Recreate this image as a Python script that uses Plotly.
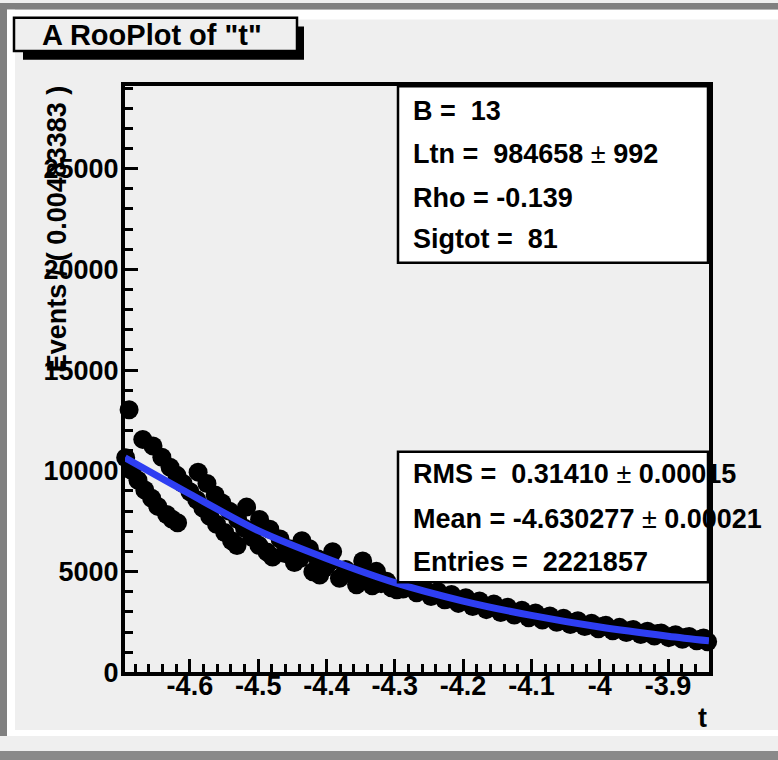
import plotly.graph_objects as go

# ---------------- data ----------------
t_data = [
    -4.689,
    -4.694, -4.685, -4.676, -4.666, -4.656, -4.647, -4.634, -4.626, -4.618,
    -4.669, -4.654, -4.641, -4.629, -4.619, -4.610, -4.600, -4.590, -4.581,
    -4.571, -4.561, -4.549, -4.539, -4.531,
    -4.588, -4.575, -4.563, -4.553, -4.542, -4.530, -4.520, -4.509, -4.499,
    -4.487, -4.479,
    -4.517, -4.498, -4.483, -4.468, -4.454, -4.439, -4.420, -4.410,
    -4.436, -4.425, -4.413, -4.400, -4.381, -4.356, -4.391,
    -4.347, -4.327, -4.312, -4.297,
    -4.461, -4.447, -4.404, -4.395, -4.372, -4.364, -4.338, -4.333, -4.320, -4.305,
    -4.288, -4.278, -4.268, -4.258, -4.247, -4.237, -4.227, -4.217, -4.207,
    -4.196, -4.186, -4.176, -4.166, -4.155, -4.145, -4.135, -4.125, -4.114,
    -4.104, -4.094, -4.084, -4.073, -4.063, -4.053, -4.043, -4.032, -4.022,
    -4.012, -4.002, -3.991, -3.981, -3.971, -3.961, -3.951, -3.940, -3.930,
    -3.920, -3.910, -3.899, -3.889, -3.879, -3.869, -3.858, -3.848, -3.842,
    -4.283, -4.263, -4.242, -4.222, -4.201, -4.181, -4.160, -4.140, -4.119,
    -4.099, -4.078, -4.058, -4.037, -4.017, -3.996, -3.976, -3.956, -3.935,
    -3.915, -3.894, -3.874, -3.853,
]
n_data = [
    13030,
    10650, 10020, 9535, 9045, 8640, 8235, 7830, 7600, 7425,
    11560, 11235, 10670, 10180, 9775, 9370, 8965, 8560, 8155,
    7750, 7345, 6940, 6530, 6290,
    9935, 9370, 8805, 8400, 7990, 7590, 7150, 6700, 6300,
    5965, 5720,
    8200, 7590, 7100, 6615, 6130, 5650, 4995, 4830,
    6530, 6130, 5640, 5300, 4670, 4345, 5985,
    5520, 5010, 4520, 4100,
    5900, 5450, 5150, 5500, 5100, 4900, 4700, 4300, 4400, 4200,
    4130, 4400, 3950, 4200, 3760, 4010, 3600, 3860, 3420,
    3700, 3260, 3540, 3110, 3390, 2970, 3230, 2840, 3080,
    2710, 2940, 2590, 2800, 2480, 2680, 2370, 2560, 2270,
    2440, 2160, 2330, 2060, 2230, 1970, 2130, 1880, 2040,
    1800, 1950, 1720, 1860, 1640, 1780, 1570, 1700, 1520,
    4300, 4060, 3880, 3640, 3560, 3380, 3250, 3050, 2980,
    2790, 2720, 2560, 2490, 2330, 2290, 2130, 2080, 1960,
    1920, 1790, 1740, 1640,
]

t_curve = [-4.695, -4.6, -4.5, -4.4, -4.3, -4.2, -4.1, -4.0, -3.9, -3.84]
n_curve = [10650, 8850, 7030, 5650, 4450, 3537, 2823, 2245, 1791, 1560]

x_tick_vals = [-4.6, -4.5, -4.4, -4.3, -4.2, -4.1, -4.0, -3.9]
x_tick_text = ["-4.6", "-4.5", "-4.4", "-4.3", "-4.2", "-4.1", "-4", "-3.9"]
y_tick_vals = [0, 5000, 10000, 15000, 20000, 25000]
y_tick_text = ["0", "5000", "10000", "15000", "20000", "25000"]

title_text = 'A RooPlot of "t"'
y_title = "Events / ( 0.00483383 )"
x_title = "t"
PM = "</b>\u00b1<b>"
stats_top = ["B =\u00a0 13", "Ltn =\u00a0 984658 " + PM + " 992", "Rho = -0.139", "Sigtot =\u00a0 81"]
stats_bot = ["RMS =\u00a0 0.31410 " + PM + " 0.00015", "Mean = -4.630277 " + PM + " 0.00021", "Entries =\u00a0 2221857"]

# ---------------- layout helpers ----------------
W, H = 778, 751
BG = "#efefef"
FONT = "Liberation Sans, Arial, Helvetica, sans-serif"


def px(x):
    return x / W


def py(y):
    return 1 - y / H


fig = go.Figure()
fig.add_trace(go.Scatter(
    x=t_data, y=n_data, mode="markers",
    marker=dict(color="black", size=19, line=dict(width=0)),
    cliponaxis=False, hoverinfo="skip", showlegend=False,
))
fig.add_trace(go.Scatter(
    x=t_curve, y=n_curve, mode="lines",
    line=dict(color="#2e3ef2", width=7, shape="spline", smoothing=0.8),
    cliponaxis=False, hoverinfo="skip", showlegend=False,
))

shapes = []


def rect(x0, y0, x1, y1, fill, line_color=None, lw=0):
    shapes.append(dict(
        type="rect", xref="paper", yref="paper", layer="above",
        x0=px(x0), x1=px(x1), y0=py(y1), y1=py(y0),
        fillcolor=fill,
        line=dict(color=line_color or fill, width=lw),
    ))


# canvas bevel border
rect(0, 3, W, 10, "#808080")
rect(0, 3, 7, H, "#808080")
rect(7, 10, W, 20, "#ffffff")
rect(7, 10, 15, H, "#ffffff")
rect(15, 745, W, H, "#ffffff")

# title box with shadow
rect(23, 27, 304, 61, "black")
rect(14, 18, 297, 52, BG, "black", 2.5)

# stats boxes
rect(398, 88, 708, 268, "white", "black", 2.5)
rect(398, 461, 708, 594, "white", "black", 2.5)

annotations = []


def text(x, y, s, size=27, xanchor="left", angle=0):
    annotations.append(dict(
        xref="paper", yref="paper", x=px(x), y=py(y), text="<b>" + s + "</b>",
        showarrow=False, xanchor=xanchor, yanchor="middle", textangle=angle,
        font=dict(family=FONT, size=size, color="black"),
    ))


text(40, 36, title_text, size=29)
for s, yy in zip(stats_top, [113, 157, 202, 244]):
    text(411, yy, s)
for s, yy in zip(stats_bot, [484, 530, 573]):
    text(411, yy, s)
text(57, 234, y_title, size=27, xanchor="center", angle=-90)
text(709, 733, x_title, xanchor="right")

axis_common = dict(
    showline=True, linecolor="black", linewidth=4, mirror=True,
    ticks="inside", ticklen=13, tickwidth=3, tickcolor="black",
    showgrid=False, zeroline=False,
    tickfont=dict(family=FONT, size=27, color="black", weight="bold"),
)

fig.update_layout(
    width=W, height=H,
    autosize=False,
    margin=dict(l=0, r=0, t=0, b=0),
    paper_bgcolor=BG, plot_bgcolor=BG,
    showlegend=False,
    xaxis=dict(
        domain=[px(125), px(709)], range=[-4.695, -3.84],
        tickmode="array", tickvals=x_tick_vals, ticktext=x_tick_text,
        ticklabelstandoff=-14,
        minor=dict(tickmode="linear", tick0=0, dtick=0.02, ticks="inside",
                   ticklen=8, tickwidth=3, tickcolor="black"),
        **axis_common,
    ),
    yaxis=dict(
        domain=[py(686), py(88)], range=[0, 29090],
        tickmode="array", tickvals=y_tick_vals, ticktext=y_tick_text,
        ticklabelstandoff=-3,
        minor=dict(tickmode="linear", tick0=0, dtick=1000, ticks="inside",
                   ticklen=8, tickwidth=3, tickcolor="black"),
        **axis_common,
    ),
    shapes=shapes,
    annotations=annotations,
)

page_fix = (
    "document.documentElement.style.overflow='hidden';"
    "document.body.style.overflow='hidden';"
    "document.body.style.margin='0';"
    "document.body.style.background='#8a8a8a';"
)
fig.write_html("out.html", config={"responsive": False}, post_script=page_fix)
